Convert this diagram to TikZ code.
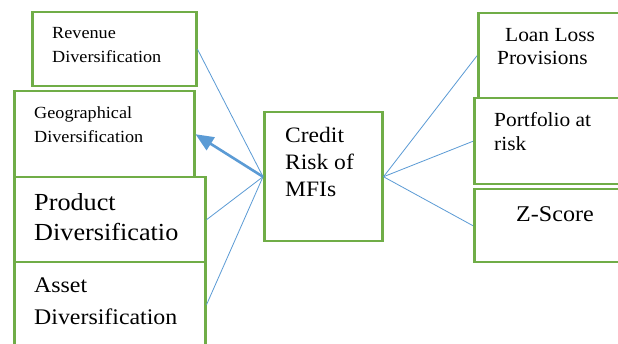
\documentclass[tikz,border=0pt]{standalone}
\usepackage{fontspec}
\setmainfont{Liberation Serif}[FakeStretch=1.07]
\usetikzlibrary{arrows.meta}
\definecolor{boxgreen}{HTML}{70AD47}
\definecolor{linkblue}{HTML}{5B9BD5}
\tikzset{
  box/.style={draw=boxgreen, line width=2.5pt, fill=none, rectangle, inner sep=0pt, anchor=north west},
  txt/.style={anchor=base west, inner sep=0pt, text=black},
  link/.style={draw=linkblue, line width=0.8pt},
  biglink/.style={draw=linkblue, line width=2.6pt, -{Triangle[length=18pt,width=15pt]}}
}
\newcommand{\fsz}[1]{\fontsize{#1}{#1}\selectfont}
\begin{document}
\begin{tikzpicture}[x=1pt,y=-1pt]
\useasboundingbox (0,0) rectangle (618,344);
\clip (0,0) rectangle (618,344);
\fill[white] (0,0) rectangle (618,344);
% boxes
\node[box, minimum width=164pt, minimum height=74pt] (rev) at (31,11) {};
\node[box, minimum width=180pt, minimum height=86pt] (geo) at (13,90) {};
\node[box, minimum width=191pt, minimum height=85pt] (prod) at (13,176) {};
\node[box, minimum width=191pt, minimum height=85pt] (asset) at (13,261) {};
\node[box, minimum width=118pt, minimum height=129pt] (credit) at (263,111) {};
\node[box, minimum width=163pt, minimum height=85pt] (loan) at (477,12) {};
\node[box, minimum width=167pt, minimum height=86pt] (port) at (473,97) {};
\node[box, minimum width=167pt, minimum height=73pt] (zsc) at (473,188) {};
% texts
\node[txt, font=\fsz{17}] (revA) at (52,39) {Revenue};
\node[txt, font=\fsz{17}] (revB) at (52,63) {Diversification};
\node[txt, font=\fsz{17}] (geoA) at (34,119) {Geographical};
\node[txt, font=\fsz{17}] (geoB) at (34,143) {Diversification};
\node[txt, font=\fsz{24.5}] (prodA) at (34,211) {Product};
\node[txt, font=\fsz{24.5}] (prodB) at (34,241) {Diversificatio};
\node[txt, font=\fsz{22.3}] (assetA) at (34,293) {Asset};
\node[txt, font=\fsz{22.3}] (assetB) at (34,325) {Diversification};
\node[txt, font=\fsz{22}] (credA) at (285,142.7) {Credit};
\node[txt, font=\fsz{22}] (credB) at (285,170) {Risk of};
\node[txt, font=\fsz{22}] (credC) at (285,197) {MFIs};
\node[txt, font=\fsz{20}] (loanA) at (505,42) {Loan Loss};
\node[txt, font=\fsz{20}] (loanB) at (497,65) {Provisions};
\node[txt, font=\fsz{20}] (portA) at (494,127) {Portfolio at};
\node[txt, font=\fsz{20}] (portB) at (494,151) {risk};
\node[txt, font=\fsz{22.5}] (zscA) at (516,222) {Z-Score};
% connectors
\draw[link] (credit.west) -- (rev.east);
\draw[biglink] (credit.west) -- (geo.east);
\draw[link] (credit.west) -- (prod.east);
\draw[link] (credit.west) -- (asset.east);
\draw[link] (credit.east) -- (loan.west);
\draw[link] (credit.east) -- (port.west);
\draw[link] (credit.east) -- (zsc.west);
\end{tikzpicture}
\end{document}
